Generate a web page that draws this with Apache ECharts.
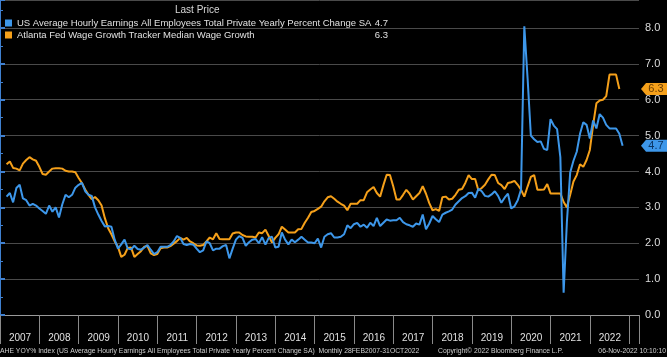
<!DOCTYPE html>
<html>
<head>
<meta charset="utf-8">
<script src="https://cdn.jsdelivr.net/npm/echarts@6/dist/echarts.min.js"></script>
<style>
html,body{margin:0;padding:0;background:#000;}
#c{width:667px;height:357px;}
</style>
</head>
<body>
<div id="c"></div>
<script>
// ---- data (monthly, Feb 2007 onward) ----
const blueName = 'US Average Hourly Earnings All Employees Total Private Yearly Percent Change SA';
const orangeName = 'Atlanta Fed Wage Growth Tracker Median Wage Growth';
const blueStart = [2007, 2];
const orangeStart = [2007, 2];
const blueValues = [
  3.3, 3.4, 3.14, 3.54, 3.63, 3.25, 3.2, 3.05, 3.1, 3.05, 2.97,
  2.9, 2.82, 3.05, 2.88, 3.0, 2.72, 3.08, 3.35, 3.28, 3.35, 3.55, 3.63,
  3.68, 3.45, 3.35, 3.32, 3.0, 2.8, 2.62, 2.47, 2.48, 2.46, 2.1, 1.85,
  1.97, 2.1, 1.85, 1.83, 1.93, 1.84, 1.82, 1.88, 1.95, 1.82, 1.7, 1.75,
  1.9, 1.9, 1.9, 1.95, 2.05, 2.2, 2.15, 1.98, 1.95, 1.98, 1.96, 1.85,
  1.75, 1.8, 2.05, 2.0, 1.8, 1.85, 1.85, 1.92, 1.95, 1.58, 1.85, 2.1,
  2.2, 2.15, 1.93, 2.03, 2.1, 2.12, 2.0, 2.17, 1.96, 2.15, 2.18, 1.88,
  1.9, 2.3, 2.1, 1.97, 2.1, 2.03, 2.1, 2.18, 2.1, 2.02, 2.02, 2.0,
  2.13, 1.88, 2.18, 2.25, 2.28, 2.16, 2.16, 2.18, 2.25, 2.5, 2.42, 2.53,
  2.57, 2.46, 2.52, 2.43, 2.57, 2.48, 2.71, 2.48, 2.57, 2.66, 2.63, 2.64,
  2.64, 2.71, 2.59, 2.53, 2.5, 2.46, 2.55, 2.52, 2.8, 2.39, 2.55, 2.76,
  2.67, 2.59, 2.8, 2.85, 2.89, 2.94, 3.08, 3.17, 3.26, 3.31, 3.4, 3.41,
  3.27, 3.52, 3.45, 3.32, 3.3, 3.36, 3.45, 3.32, 3.13, 3.27, 3.38, 2.97,
  3.03, 3.2, 3.5, 8.05, 6.6, 5.0, 4.9, 4.82, 4.84, 4.63, 4.6, 5.46,
  5.28, 5.18, 4.4, 0.62, 2.6, 3.97, 4.3, 4.55, 5.05, 5.37, 5.3, 4.92,
  5.42, 5.2, 5.6, 5.5, 5.3, 5.2, 5.2, 5.2, 5.05, 4.72
];
const orangeValues = [
  4.2, 4.28, 4.1, 4.08, 4.03, 4.22, 4.32, 4.4, 4.34, 4.3, 4.13,
  3.93, 3.91, 4.0, 4.08, 4.09, 4.09, 4.08, 4.02, 4.0, 4.0, 3.98, 3.82,
  3.68, 3.5, 3.35, 3.23, 3.29, 3.2, 3.05, 2.7, 2.42, 2.25, 2.05, 1.9,
  1.62, 1.68, 1.87, 1.88, 1.62, 1.7, 1.78, 1.9, 1.92, 1.72, 1.67, 1.7,
  1.86, 1.88, 1.88, 1.92, 1.99, 2.06, 2.15, 2.1, 2.15, 2.05, 2.0, 1.94,
  1.93, 1.95, 2.05, 2.16, 2.11, 2.28, 2.12, 2.11, 2.11, 2.11, 2.27, 2.3,
  2.3, 2.23, 2.19, 2.18, 2.18, 2.16, 2.3, 2.28, 2.38, 2.2, 2.02, 2.15,
  2.25, 2.46, 2.38, 2.3, 2.3, 2.3, 2.39, 2.4, 2.57, 2.71, 2.87, 2.9,
  2.96, 3.02, 3.17, 3.28, 3.31, 3.24, 3.16, 3.1, 3.05, 2.92, 3.1, 3.1,
  3.1, 3.2, 3.2, 3.42, 3.5, 3.57, 3.4, 3.3, 3.62, 3.91, 3.9, 3.59,
  3.22, 3.22, 3.35, 3.49, 3.38, 3.22, 3.31, 3.4, 3.59, 3.38, 3.12, 2.92,
  2.95, 2.9, 3.28, 3.3, 3.22, 3.24, 3.35, 3.49, 3.51, 3.68, 3.9, 3.79,
  3.79, 3.47, 3.54, 3.63, 3.78, 3.91, 3.9, 3.68, 3.62, 3.51, 3.68, 3.7,
  3.74, 3.63, 3.49, 3.3, 3.58, 3.85, 3.9, 3.49, 3.49, 3.5, 3.65, 3.39,
  3.39, 3.39, 3.39, 3.15, 3.0, 3.35, 3.72, 3.9, 4.2, 4.13, 4.32, 4.6,
  5.3, 5.9, 5.98, 6.0, 6.1, 6.7, 6.7, 6.7, 6.3
];
const yearLabels = ['2007','2008','2009','2010','2011','2012','2013','2014','2015','2016','2017','2018','2019','2020','2021','2022'];
const yTickLabels = ['0.0','1.0','2.0','3.0','4.0','5.0','6.0','7.0','8.0'];
const footerLeft = 'AHE YOY% Index (US Average Hourly Earnings All Employees Total Private Yearly Percent Change SA)  Monthly 28FEB2007-31OCT2022';
const footerMid = 'Copyright\u00A9 2022 Bloomberg Finance L.P.';
const footerRight = '06-Nov-2022 10:10:10';

// ---- build ----
const BLUE = '#3d97ea';
const ORANGE = '#f5a01a';
const REG = "'Liberation Sans', Arial, sans-serif";

function toPairs(values, start) {
  const base = (start[0] - 2007) * 12 + start[1];
  return values.map((v, i) => [base + i, v]);
}
const blueLast = blueValues[blueValues.length - 1];
const orangeLast = orangeValues[orangeValues.length - 1];
const lastMap = {};
lastMap[blueName] = blueLast.toFixed(1);
lastMap[orangeName] = orangeLast.toFixed(1);

const X_MAX = 195;
const TAG_PATH = 'path://M0,6 L5,0 L26,0 L26,12 L5,12 Z';

function tag(value, color, textColor) {
  return {
    symbol: TAG_PATH,
    symbolSize: [26, 12],
    symbolOffset: [15, 0],
    symbolKeepAspect: false,
    silent: true,
    animation: false,
    itemStyle: { color: color },
    label: {
      show: true, position: 'inside', offset: [2, 0],
      formatter: () => value.toFixed(1),
      color: textColor, fontSize: 11, fontFamily: REG
    },
    data: [{ coord: [X_MAX, value] }]
  };
}

const chart = echarts.init(document.getElementById('c'), null, { renderer: 'canvas' });
chart.setOption({
  backgroundColor: '#000',
  animation: false,
  title: [
    { text: 'Last Price', left: 175, top: 5, padding: 0, textStyle: { color: '#d8d8d8', fontSize: 10, fontWeight: 'normal', fontFamily: REG } },
    { text: footerLeft, left: 0, top: 348, padding: 0, textStyle: { color: '#cfcfcf', fontSize: 6.8, fontWeight: 'normal', fontFamily: REG } },
    { text: footerMid, left: 438, top: 348, padding: 0, textStyle: { color: '#cfcfcf', fontSize: 6.8, fontWeight: 'normal', fontFamily: REG } },
    { text: footerRight, right: 1, top: 348, padding: 0, textStyle: { color: '#cfcfcf', fontSize: 6.8, fontWeight: 'normal', fontFamily: REG } }
  ],
  legend: {
    orient: 'vertical', left: 5, top: 17, padding: 0, itemGap: 0,
    itemWidth: 7, itemHeight: 7, icon: 'rect', selectedMode: false,
    data: [blueName, orangeName],
    formatter: name => '{n|' + name + '}{v|' + lastMap[name] + '}',
    textStyle: {
      color: '#e0e0e0', fontFamily: REG, fontSize: 9.5, lineHeight: 12,
      rich: {
        n: { width: 355, fontFamily: REG, fontSize: 9.5, color: '#e0e0e0' },
        v: { width: 16, align: 'right', fontFamily: REG, fontSize: 9.5, color: '#e0e0e0' }
      }
    }
  },
  grid: { left: -7.8, right: 28, top: -2, bottom: 42, containLabel: false },
  xAxis: {
    type: 'value', min: 0, max: X_MAX, interval: 12, offset: 5,
    axisLine: { show: true, lineStyle: { color: '#9a9a9a', width: 1 } },
    axisTick: { show: true, length: 29, lineStyle: { color: '#8a8a8a', width: 1 } },
    splitLine: { show: false },
    axisLabel: {
      show: true, margin: 13, color: '#e0e0e0', fontSize: 10, fontFamily: REG,
      padding: [0, 0, 0, 40], showMinLabel: true, showMaxLabel: true,
      formatter: v => (v % 12 === 0 && yearLabels[v / 12]) ? yearLabels[v / 12] : ''
    }
  },
  yAxis: {
    type: 'value', position: 'right', min: 0, max: 8.78, interval: 1,
    axisLine: { show: true, lineStyle: { color: '#3f80d0', width: 1 } },
    axisTick: { show: true, length: 5, lineStyle: { color: '#3f80d0', width: 2 } },
    minorTick: { show: true, splitNumber: 2, length: 3, lineStyle: { color: '#3f80d0' } },
    splitLine: { show: true, lineStyle: { color: '#4a4a4a', width: 1 } },
    axisLabel: {
      margin: 6, color: '#dcdcdc', fontSize: 11, fontFamily: REG,
      formatter: v => (Number.isInteger(v) && yTickLabels[v] !== undefined) ? yTickLabels[v] : ''
    }
  },
  series: [
    {
      name: blueName, type: 'line', showSymbol: false, symbol: 'none',
      lineStyle: { color: BLUE, width: 2 }, itemStyle: { color: BLUE },
      data: toPairs(blueValues, blueStart), z: 3,
      markPoint: tag(blueLast, BLUE, '#0b3563')
    },
    {
      name: orangeName, type: 'line', showSymbol: false, symbol: 'none',
      lineStyle: { color: ORANGE, width: 2 }, itemStyle: { color: ORANGE },
      data: toPairs(orangeValues, orangeStart), z: 2,
      markPoint: tag(orangeLast, ORANGE, '#6b3d00')
    }
  ]
});
</script>
</body>
</html>
